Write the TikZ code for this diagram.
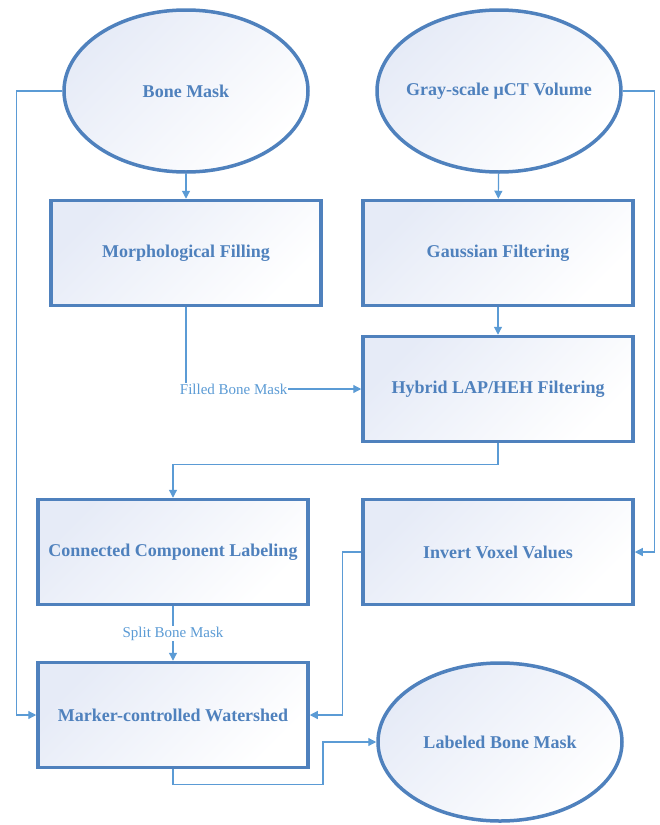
\documentclass[tikz,border=0pt]{standalone}
\usepackage{fontspec}
\setmainfont{Liberation Serif}
\usepackage{tikz}
\usetikzlibrary{arrows.meta,shapes.geometric}

\definecolor{boxblue}{RGB}{79,129,189}
\definecolor{lineblue}{RGB}{91,155,213}
\definecolor{boxfill}{RGB}{230,235,247}

\begin{document}
\begin{tikzpicture}[
    x=1pt, y=-1pt,
    proc_box_style/.style={rectangle, draw=boxblue, line width=3.5pt,
        top color=boxfill, bottom color=white, shading angle=45,
        minimum width=270pt, minimum height=105pt, inner sep=0pt,
        text=boxblue, font=\fontsize{18}{21}\selectfont\bfseries},
    data_ellipse_style/.style={ellipse, draw=boxblue, line width=3.5pt,
        top color=boxfill, bottom color=white, shading angle=45,
        minimum width=244pt, minimum height=162pt, inner xsep=-25pt, inner ysep=0pt,
        text=boxblue, font=\fontsize{18}{21}\selectfont\bfseries},
    flow_line_style/.style={draw=lineblue, line width=1.2pt,
        -{Triangle[length=8pt,width=8pt]}},
    edge_label_style/.style={fill=white, inner sep=1pt, text=lineblue,
        font=\fontsize{15}{17}\selectfont}
]
\useasboundingbox (0,0) rectangle (659,825);

% Inputs
\node[data_ellipse_style] (bone) at (186,91) {Bone Mask};
\node[data_ellipse_style] (gray) at (499,91) {Gray-scale μCT Volume};

% Processing steps
\node[proc_box_style] (morph) at (186,253) {Morphological Filling};
\node[proc_box_style] (gauss) at (498,253) {Gaussian Filtering};
\node[proc_box_style] (hybrid) at (498,389) {Hybrid LAP/HEH Filtering};
\node[proc_box_style] (ccl) at (173,552) {Connected Component Labeling};
\node[proc_box_style] (invert) at (498,552) {Invert Voxel Values};
\node[proc_box_style] (water) at (173,715) {Marker-controlled Watershed};

% Output
\node[data_ellipse_style, minimum height=158pt] (labeled) at (500,742) {Labeled Bone Mask};

% Connectors
\draw[flow_line_style] (bone) -- (morph);
\draw[flow_line_style] (gray) -- (gauss);
\draw[flow_line_style] (gauss) -- (hybrid);
\draw[flow_line_style] (morph.south) |- node[edge_label_style, pos=0.636] {Filled Bone Mask} (hybrid.west);
\draw[flow_line_style] (hybrid.south) -- ++(0,21) -| (ccl.north);
\draw[flow_line_style] (ccl) -- node[edge_label_style] {Split Bone Mask} (water);
\draw[flow_line_style] (bone.west) -- ++(-46,0) |- (water.west);
\draw[flow_line_style] (gray.east) -- ++(32,0) |- (invert.east);
\draw[flow_line_style] (invert.west) -- ++(-19,0) |- (water.east);
\draw[flow_line_style] (water.south) -- ++(0,15) -- ++(150,0) |- (labeled.west);

\end{tikzpicture}
\end{document}
